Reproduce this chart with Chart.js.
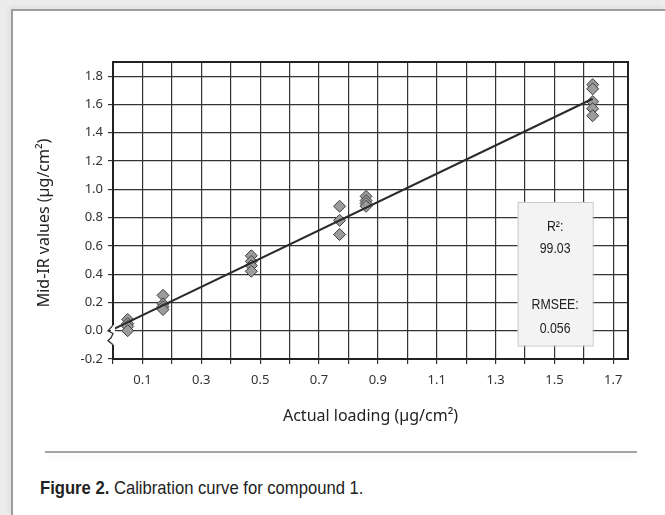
<!DOCTYPE html>
<html>
<head>
<meta charset="utf-8">
<script src="https://cdn.jsdelivr.net/npm/chart.js@4.4.0/dist/chart.umd.min.js"></script>
<style>
  html, body { margin: 0; padding: 0; }
  body {
    width: 665px;
    height: 515px;
    background: #ececec;
    position: relative;
    overflow: hidden;
    font-family: "Noto Sans", sans-serif;
  }
  #frame {
    position: absolute;
    left: 11px;
    top: 9px;
    right: 0;
    bottom: 0;
    background: #fff;
    border-top: 2px solid #9c9c9c;
    border-left: 2px solid #9c9c9c;
    box-shadow: -2px -2px 5px rgba(0, 0, 0, 0.06);
  }
  #myScatterChart { position: absolute; left: 0; top: 0; }
  #rule {
    position: absolute;
    left: 45px;
    top: 451px;
    width: 592px;
    border-top: 2px solid #a3a3a3;
    box-shadow: 0 4px 6px rgba(0, 0, 0, 0.07);
  }
  #caption {
    position: absolute;
    left: 40px;
    top: 477px;
    font-family: "Liberation Sans", Arial, sans-serif;
    font-size: 19px;
    color: #222;
    white-space: nowrap;
    transform: scaleX(0.875);
    transform-origin: left top;
  }
</style>
</head>
<body>
<div id="frame"></div>
<canvas id="myScatterChart" width="665" height="440"></canvas>
<div id="rule"></div>
<div id="caption"><b>Figure 2.</b> Calibration curve for compound 1.</div>

<script>
// measured samples (actual loading vs. mid-IR prediction)
const loadingX = [
  0.05, 0.05, 0.05, 0.05,
  0.17, 0.17, 0.17, 0.17,
  0.47, 0.47, 0.47, 0.47,
  0.77, 0.77, 0.77,
  0.86, 0.86, 0.86, 0.86,
  1.63, 1.63, 1.63, 1.63, 1.63,
];
const midIrY = [
  0.08, 0.05, 0.03, 0.0,
  0.25, 0.19, 0.17, 0.15,
  0.53, 0.49, 0.46, 0.42,
  0.88, 0.78, 0.68,
  0.95, 0.92, 0.9, 0.88,
  1.74, 1.71, 1.62, 1.57, 1.52,
];

// regression line end points
const fitX = [0, 1.63];
const fitY = [0.01, 1.64];

const xTickLabels = ["0.1", "0.3", "0.5", "0.7", "0.9", "1.1", "1.3", "1.5", "1.7"];
const yTickLabels = ["-0.2", "0.0", "0.2", "0.4", "0.6", "0.8", "1.0", "1.2", "1.4", "1.6", "1.8"];

const statsLines = ["R²:", "99.03", "RMSEE:", "0.056"];
const statsLineY = [0.735, 0.58, 0.185, 0.015];

const gridColor = "#333333";
const tickFont = { family: "'Noto Sans', sans-serif", size: 13 };
const titleFont = { family: "'Noto Sans', sans-serif", size: 16 };

// plot frame + stats box, placed with the scales
const statsBox = {
  id: "statsBox",
  beforeDatasetsDraw(chart) {
    const { ctx, scales, chartArea } = chart;
    const x = scales.x;
    const y = scales.y;

    ctx.save();
    ctx.strokeStyle = "#222";
    ctx.lineWidth = 2;
    ctx.strokeRect(chartArea.left, chartArea.top, chartArea.right - chartArea.left, chartArea.bottom - chartArea.top);

    const left = x.getPixelForValue(1.375);
    const right = x.getPixelForValue(1.63);
    const top = y.getPixelForValue(0.91);
    const bottom = y.getPixelForValue(-0.105);

    ctx.fillStyle = "#f3f3f3";
    ctx.fillRect(left, top, right - left, bottom - top);
    ctx.strokeStyle = "#c9c9c9";
    ctx.lineWidth = 1;
    ctx.strokeRect(left + 0.5, top + 0.5, right - left, bottom - top);

    ctx.fillStyle = "#222";
    ctx.font = "15px 'Liberation Sans', Arial, sans-serif";
    ctx.textAlign = "center";
    ctx.textBaseline = "middle";
    const cx = (left + right) / 2;
    statsLines.forEach((t, i) => {
      ctx.save();
      ctx.translate(cx, y.getPixelForValue(statsLineY[i]));
      ctx.scale(0.82, 1);
      ctx.fillText(t, 0, 0);
      ctx.restore();
    });
    ctx.restore();
  },
};

// zigzag break on the y axis near zero
const axisBreak = {
  id: "axisBreak",
  afterDraw(chart) {
    const { ctx, scales } = chart;
    const y = scales.y;
    const x0 = chart.chartArea.left;
    const yTop = y.getPixelForValue(0.04);
    const yBot = y.getPixelForValue(-0.1);

    ctx.save();
    ctx.fillStyle = "#fff";
    ctx.fillRect(x0 - 2, yTop, 4, yBot - yTop);
    ctx.strokeStyle = "#333";
    ctx.lineWidth = 1.3;
    ctx.beginPath();
    ctx.moveTo(x0, yTop);
    ctx.lineTo(x0 - 5, y.getPixelForValue(0.0));
    ctx.lineTo(x0, y.getPixelForValue(-0.02));
    ctx.lineTo(x0 - 2, y.getPixelForValue(-0.05));
    ctx.lineTo(x0 - 5, y.getPixelForValue(-0.07));
    ctx.lineTo(x0, yBot);
    ctx.stroke();
    ctx.restore();
  },
};

const ctxScatter = document.getElementById("myScatterChart").getContext("2d");

const myScatterChart = new Chart(ctxScatter, {
  type: "scatter",
  data: {
    datasets: [
      {
        type: "line",
        label: "Fit",
        data: fitX.map((v, i) => ({ x: v, y: fitY[i] })),
        borderColor: "#2a2a2a",
        borderWidth: 2,
        pointRadius: 0,
        fill: false,
      },
      {
        label: "Samples",
        data: loadingX.map((v, i) => ({ x: v, y: midIrY[i] })),
        pointStyle: "rectRot",
        pointRadius: 6,
        pointBackgroundColor: "#9c9c9c",
        pointBorderColor: "#3c3c3c",
        pointBorderWidth: 1,
      },
    ],
  },
  options: {
    responsive: false,
    animation: false,
    layout: {
      padding: { left: 0, top: 62, right: 37, bottom: 0 },
    },
    plugins: {
      legend: { display: false },
      tooltip: { enabled: false },
    },
    scales: {
      x: {
        type: "linear",
        min: 0,
        max: 1.75,
        afterFit(scale) {
          scale.height = 81;
        },
        ticks: {
          stepSize: 0.1,
          includeBounds: false,
          padding: 8,
          color: "#333",
          font: tickFont,
          maxRotation: 0,
          autoSkip: false,
          callback: function (value) {
            const s = value.toFixed(1);
            return xTickLabels.includes(s) ? s : "";
          },
        },
        grid: {
          color: gridColor,
          tickColor: gridColor,
          tickLength: 5,
          lineWidth: 1.2,
        },
        border: { display: true, color: "#222", width: 2 },
        title: {
          display: true,
          text: "Actual loading (µg/cm²)",
          color: "#222",
          font: titleFont,
          padding: { top: 0, bottom: 14 },
        },
      },
      y: {
        type: "linear",
        min: -0.2,
        max: 1.9,
        afterFit(scale) {
          scale.width = 113;
        },
        ticks: {
          stepSize: 0.2,
          includeBounds: false,
          padding: 5,
          color: "#333",
          font: tickFont,
          autoSkip: false,
          callback: function (value) {
            const s = value.toFixed(1);
            return yTickLabels.includes(s) ? s : "";
          },
        },
        grid: {
          color: gridColor,
          tickColor: gridColor,
          tickLength: 5,
          lineWidth: 1.2,
        },
        border: { display: true, color: "#222", width: 2 },
        title: {
          display: true,
          // trailing no-break spaces nudge the label a little lower, as in the original
          text: "Mid-IR values (µg/cm²)\u00a0\u00a0\u00a0\u00a0\u00a0\u00a0",
          color: "#222",
          font: titleFont,
          padding: { top: 35, bottom: 0 },
        },
      },
    },
  },
  plugins: [statsBox, axisBreak],
});
</script>
</body>
</html>
